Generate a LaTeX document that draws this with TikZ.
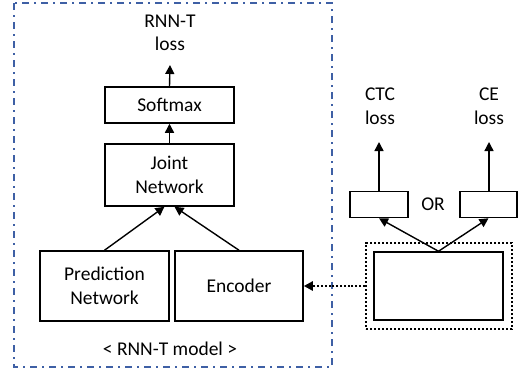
\documentclass[tikz,border=0pt]{standalone}
\usepackage{fontspec}
\setmainfont{Carlito}
\usetikzlibrary{arrows.meta,calc}
\definecolor{frameblue}{RGB}{62,96,165}
\tikzset{
  box/.style={draw=black,line width=1.5pt,rectangle,inner sep=0pt,align=center,font=\fontsize{19.5}{23.5}\selectfont},
  lbl/.style={inner sep=0pt,align=center,font=\fontsize{19.5}{23.5}\selectfont},
  arr/.style={line width=1.4pt,-{Triangle[width=9pt,length=9pt]}},
  dotarr/.style={line width=2.2pt,dash pattern=on 2pt off 1.8pt,-{Triangle[width=9pt,length=9pt]}},
}
\begin{document}
\begin{tikzpicture}[x=1pt,y=-1pt]
\useasboundingbox (0,0) rectangle (518,370);
% outer RNN-T frame
\draw[frameblue,line width=2pt,dash pattern=on 7pt off 5pt on 2pt off 5pt] (14,3) rectangle (332,367);
\node[box,minimum width=129pt,minimum height=36pt] (soft) at (169.5,105) {Softmax};
\node[box,minimum width=129pt,minimum height=62pt] (joint) at (169.5,175) {Joint\\Network};
\node[box,minimum width=129pt,minimum height=70pt] (pred) at (104.5,286) {Prediction\\Network};
\node[box,minimum width=128pt,minimum height=70pt] (enc) at (239,286) {Encoder};
\node[lbl] (rnntloss) at (170,33) {RNN-T\\loss};
\node[lbl] (model) at (170,349) {< RNN-T model >};
\coordinate (rnnttip) at (170,65);
\draw[arr] (soft.north) -- (rnnttip);
\draw[arr] (joint.north) -- (soft.south);
\draw[arr] (pred.north) -- ($(joint.south)+(-5,0)$);
\draw[arr] (enc.north) -- ($(joint.south)+(5,0)$);
% right part
\node[draw=black,line width=2.4pt,dash pattern=on 2.2pt off 1.8pt,rectangle,minimum width=146pt,minimum height=86pt,inner sep=0pt] (outer) at (439,286) {};
\node[box,minimum width=129pt,minimum height=68pt] (inner) at (438.5,286) {};
\node[box,minimum width=58pt,minimum height=26pt] (ctcbox) at (379,204.5) {};
\node[box,minimum width=57pt,minimum height=26pt] (cebox) at (488.5,204.5) {};
\node[lbl] (or) at (433,204) {OR};
\node[lbl] (ctcloss) at (380,106) {CTC\\loss};
\node[lbl] (celoss) at (489,106) {CE\\loss};
\coordinate (ctctip) at (379,142);
\coordinate (cetip) at (489,142);
\draw[arr] (ctcbox.north) -- (ctctip);
\draw[arr] ([xshift=0.5pt]cebox.north) -- (cetip);
\draw[arr] (inner.north) -- (ctcbox.south);
\draw[arr] (inner.north) -- (cebox.south);
\draw[dotarr] (outer.west) -- (enc.east);
\end{tikzpicture}
\end{document}
